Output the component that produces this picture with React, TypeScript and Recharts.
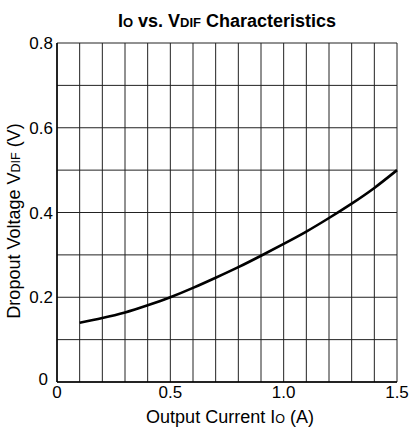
import { LineChart, Line, XAxis, YAxis, CartesianGrid } from "recharts";

// Output current Io (A) vs dropout voltage VDIF (V)
const currentA = [0.1, 0.2, 0.3, 0.4, 0.5, 0.6, 0.7, 0.8, 0.9, 1.0, 1.1, 1.2, 1.3, 1.4, 1.5];
const dropoutV = [0.14, 0.151, 0.164, 0.181, 0.2, 0.222, 0.246, 0.271, 0.298, 0.326, 0.355, 0.387, 0.421, 0.458, 0.5];

const xTicks = [0, 0.1, 0.2, 0.3, 0.4, 0.5, 0.6, 0.7, 0.8, 0.9, 1.0, 1.1, 1.2, 1.3, 1.4, 1.5];
const yTicks = [0, 0.1, 0.2, 0.3, 0.4, 0.5, 0.6, 0.7, 0.8];
const xTickLabels: Record<string, string> = { "0": "0", "0.5": "0.5", "1": "1.0", "1.5": "1.5" };
const yTickLabels: Record<string, string> = { "0": "0", "0.2": "0.2", "0.4": "0.4", "0.6": "0.6", "0.8": "0.8" };

const data = currentA.map((io, i) => ({ io, vdif: dropoutV[i] }));

const FONT = "'Liberation Sans', Arial, sans-serif";
const FS = 17;
const LABEL_FS = 18;
const SUB = 12.5;

function XTick(props: any) {
  const { x, y, payload } = props;
  const label = xTickLabels[String(payload.value)];
  if (!label) return null;
  return (
    <text x={x} y={y} dy="0.71em" textAnchor="middle" fontSize={FS} fontFamily={FONT} fill="#000">
      {label}
    </text>
  );
}

function YTick(props: any) {
  const { x, y, payload } = props;
  const label = yTickLabels[String(payload.value)];
  if (!label) return null;
  // the zero label sits a bit up and left of the corner
  const isZero = payload.value === 0;
  return (
    <text
      x={isZero ? x - 5 : x}
      y={isZero ? y - 3 : y}
      dy="0.355em"
      textAnchor="end"
      fontSize={FS}
      fontFamily={FONT}
      fill="#000"
    >
      {label}
    </text>
  );
}

export default function App() {
  return (
    <div style={{ position: "absolute", left: 0, top: 0, width: 409, height: 430, background: "#fff" }}>
      <svg width={409} height={34} style={{ position: "absolute", left: 0, top: 0 }}>
        <text x={227} y={27} textAnchor="middle" fontSize={18} fontWeight="bold" fontFamily={FONT} fill="#000">
          I<tspan fontSize={13}>O</tspan> vs. V<tspan fontSize={13}>DIF</tspan> Characteristics
        </text>
      </svg>
      <LineChart
        width={409}
        height={430}
        data={data}
        margin={{ top: 43, right: 12, bottom: 18, left: 0 }}
        style={{ position: "absolute", left: 0, top: 0 }}
      >
        <CartesianGrid stroke="#222" strokeWidth={1} horizontalValues={yTicks} verticalValues={xTicks} />
        <XAxis
          dataKey="io"
          type="number"
          domain={[0, 1.5]}
          ticks={xTicks}
          interval={0}
          height={30}
          tickSize={0}
          tickMargin={4}
          tickLine={false}
          axisLine={{ stroke: "#000", strokeWidth: 1.5 }}
          tick={<XTick />}
          label={{
            content: () => (
              <text x={230} y={423} textAnchor="middle" fontSize={LABEL_FS} fontFamily={FONT} fill="#000">
                Output Current I<tspan fontSize={SUB}>O</tspan> (A)
              </text>
            ),
          }}
        />
        <YAxis
          type="number"
          domain={[0, 0.8]}
          ticks={yTicks}
          interval={0}
          width={57}
          tickSize={0}
          tickMargin={4}
          tickLine={false}
          axisLine={{ stroke: "#000", strokeWidth: 1.5 }}
          tick={<YTick />}
          label={{
            content: () => (
              <text
                x={20}
                y={221}
                transform="rotate(-90 20 221)"
                textAnchor="middle"
                fontSize={LABEL_FS}
                fontFamily={FONT}
                fill="#000"
              >
                Dropout Voltage V<tspan fontSize={SUB}>DIF</tspan> (V)
              </text>
            ),
          }}
        />
        <Line
          type="natural"
          dataKey="vdif"
          stroke="#000"
          strokeWidth={2.6}
          dot={false}
          isAnimationActive={false}
        />
      </LineChart>
    </div>
  );
}
